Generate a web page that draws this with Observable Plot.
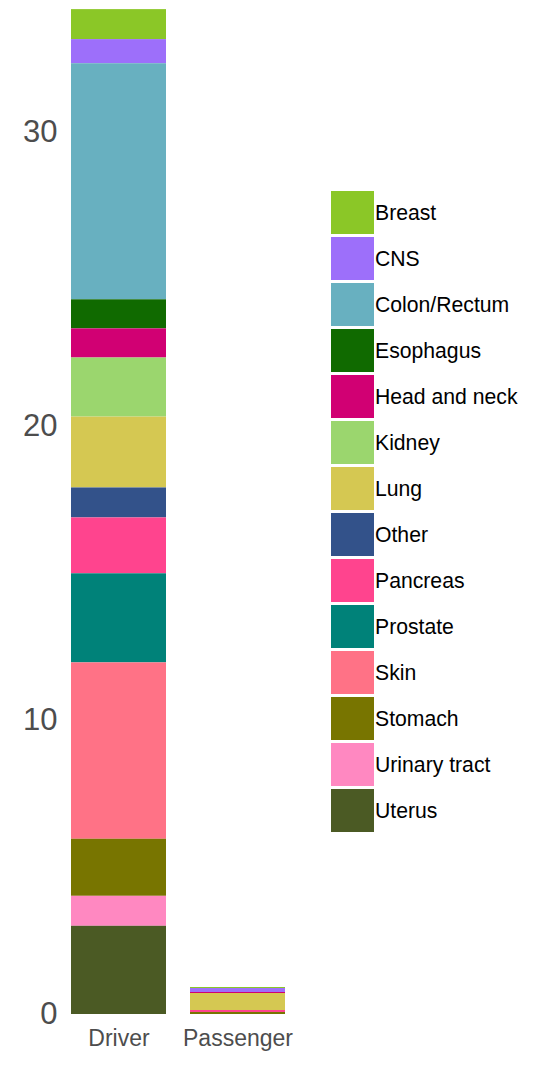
<!DOCTYPE html>
<html>
<head>
<meta charset="utf-8">
<script src="https://cdn.jsdelivr.net/npm/d3@7"></script>
<script src="https://cdn.jsdelivr.net/npm/@observablehq/plot@0.6"></script>
<style>
  html, body { margin: 0; padding: 0; background: #fff; }
  #wrap { position: relative; width: 534px; height: 1072px; font-family: "Liberation Sans", Arial, sans-serif; }
  #legend { position: absolute; left: 331px; top: 191px; }
  .item { display: flex; align-items: center; height: 43px; margin-bottom: 3px; }
  .sw { width: 43px; height: 43px; margin-right: 1px; flex: none; }
  .lab { font-size: 21.2px; color: #000; white-space: nowrap; }
</style>
</head>
<body>
<div id="wrap"><div id="legend"></div></div>
<script>
const categories = ["Breast", "CNS", "Colon/Rectum", "Esophagus", "Head and neck", "Kidney", "Lung", "Other", "Pancreas", "Prostate", "Skin", "Stomach", "Urinary tract", "Uterus"];
const colors = ["#8BC727", "#9D6FFA", "#68B0C0", "#106A00", "#D10073", "#9BD66E", "#D5C852", "#33528A", "#FF448E", "#008279", "#FF7286", "#787500", "#FF88C1", "#4B5A24"];
const groups = ["Driver", "Passenger"];
const driverValues = [1.02, 0.82, 8.03, 0.99, 0.99, 2.01, 2.41, 1.02, 1.9, 3.03, 6.0, 1.94, 1.02, 3.0];
const passengerValues = [0.034, 0.136, 0, 0, 0.034, 0, 0.578, 0, 0.068, 0, 0, 0.068, 0, 0];
const yTicks = [0, 10, 20, 30];

const data = [];
categories.forEach((c, i) => {
  data.push({group: "Driver", type: c, value: driverValues[i]});
  data.push({group: "Passenger", type: c, value: passengerValues[i]});
});

const chart = Plot.plot({
  width: 534,
  height: 1072,
  marginTop: 10,
  marginBottom: 58,
  marginLeft: 46,
  marginRight: 224,
  style: {fontFamily: "'Liberation Sans', Arial, sans-serif", background: "#fff"},
  x: {domain: groups, padding: 0.2, label: null},
  y: {domain: [0, 34.15], label: null},
  color: {domain: categories, range: colors},
  marks: [
    Plot.barY(data, {x: "group", y: "value", fill: "type", order: categories.slice().reverse()}),
    Plot.axisY(yTicks, {tickSize: 0, tickPadding: 0, dx: 11, fontSize: 31, color: "#4D4D4D", label: null}),
    Plot.axisX({tickSize: 0, tickPadding: 15, fontSize: 23, color: "#4D4D4D", label: null})
  ]
});
chart.style.position = "absolute";
chart.style.left = "0";
chart.style.top = "0";
document.getElementById("wrap").prepend(chart);

const legend = document.getElementById("legend");
categories.forEach((c, i) => {
  const item = document.createElement("div");
  item.className = "item";
  const sw = document.createElement("div");
  sw.className = "sw";
  sw.style.background = colors[i];
  const lab = document.createElement("span");
  lab.className = "lab";
  lab.textContent = c;
  item.appendChild(sw);
  item.appendChild(lab);
  legend.appendChild(item);
});
</script>
</body>
</html>
